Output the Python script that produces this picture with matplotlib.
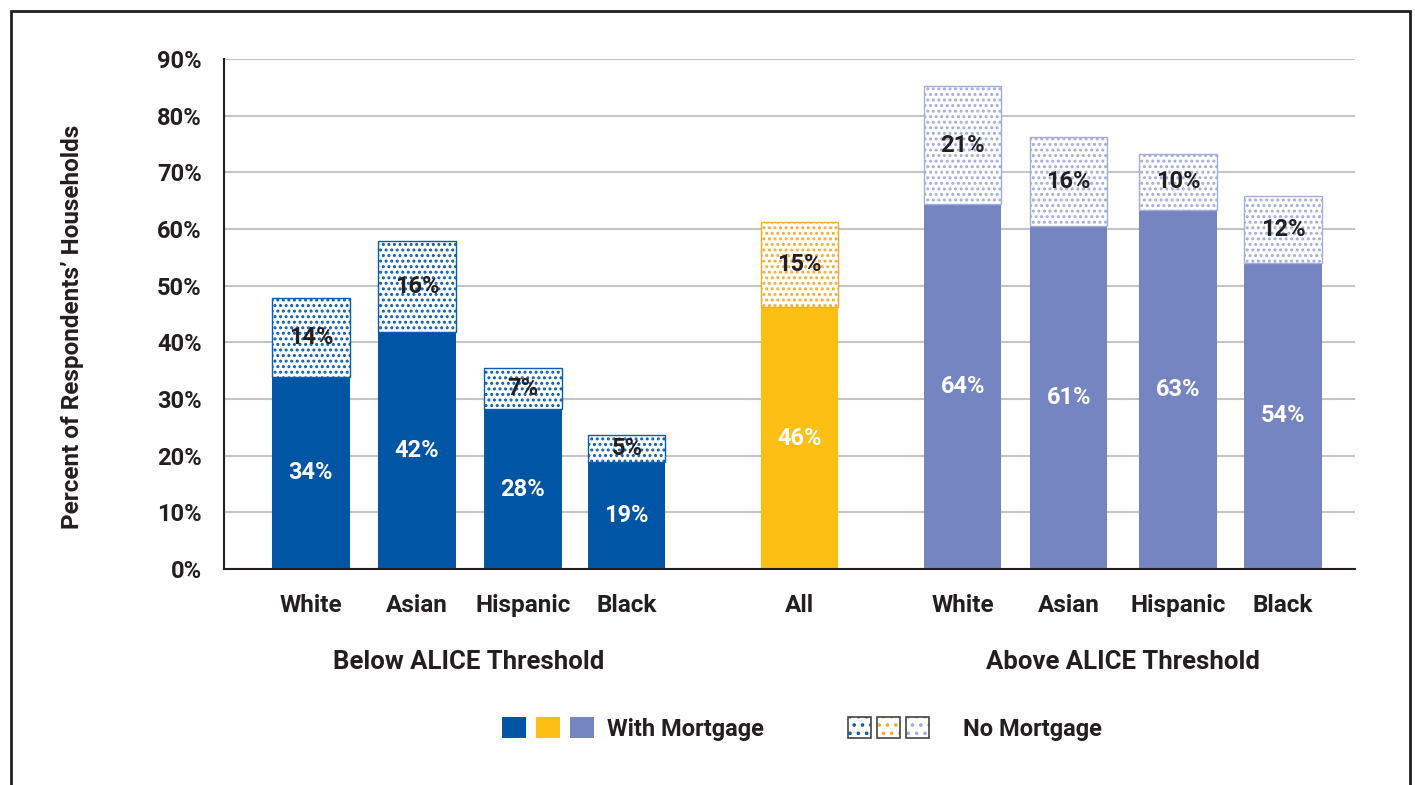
import matplotlib
matplotlib.use("Agg")
from matplotlib import pyplot as plt
from matplotlib.patches import Patch, Rectangle
from matplotlib.legend_handler import HandlerTuple

# data
categories = ['White', 'Asian', 'Hispanic', 'Black', 'All', 'White', 'Asian', 'Hispanic', 'Black']
groups = ['below', 'below', 'below', 'below', 'all', 'above', 'above', 'above', 'above']
with_mortgage = [33.9, 41.8, 28.2, 18.9, 46.2, 64.4, 60.6, 63.4, 54.0]
no_mortgage = [13.9, 16.1, 7.2, 4.8, 15.0, 20.8, 15.6, 9.9, 11.8]
x_pos = [0, 1, 2, 2.98, 4.61, 6.15, 7.15, 8.18, 9.17]
group_labels = ['Below ALICE Threshold', 'Above ALICE Threshold']

solid = {'below': '#0055a5', 'all': '#fdbf14', 'above': '#7585c1'}
dots = {'below': '#0a5cb0', 'all': '#f7ac2e', 'above': '#a3acdc'}
txt = '#231f20'

plt.rcParams['font.family'] = ['Roboto', 'DejaVu Sans']
plt.rcParams['font.weight'] = 'bold'
plt.rcParams['hatch.linewidth'] = 1.4

fig = plt.figure(figsize=(14.15, 7.85), dpi=100)
ax = fig.add_axes([224 / 1415, 1 - 569 / 785, 1131 / 1415, 510 / 785])

bw = 0.73
for i in range(len(categories)):
    g = groups[i]
    ax.bar(x_pos[i], with_mortgage[i], width=bw, color=solid[g], zorder=3)
    ax.bar(x_pos[i], no_mortgage[i], width=bw, bottom=with_mortgage[i], facecolor='white',
           edgecolor=dots[g], hatch='...', linewidth=1, zorder=3)
    ax.text(x_pos[i], with_mortgage[i] / 2, f'{round(with_mortgage[i])}%', ha='center', va='center',
            color='white', fontsize=17, fontweight='bold', zorder=4)
    ax.text(x_pos[i], with_mortgage[i] + no_mortgage[i] / 2, f'{round(no_mortgage[i])}%', ha='center',
            va='center', color=txt, fontsize=17, fontweight='bold', zorder=4)

ax.set_ylim(0, 90)
ax.set_xlim(-0.82, 9.85)
ax.set_yticks(range(0, 91, 10))
ax.set_yticklabels([f'{v}%' for v in range(0, 91, 10)], fontsize=17, color=txt)
ax.set_xticks(x_pos)
ax.set_xticklabels(categories, fontsize=17.5, color=txt)
ax.tick_params(axis='y', length=0, pad=16)
ax.tick_params(axis='x', length=0, pad=18)
ax.grid(axis='y', color='#c4c4c4', linewidth=1.5, zorder=0)
for s in ['top', 'right']:
    ax.spines[s].set_visible(False)
for s in ['left', 'bottom']:
    ax.spines[s].set_color(txt)
    ax.spines[s].set_linewidth(1.5)
    ax.spines[s].set_zorder(5)

ax.set_ylabel("Percent of Respondents\u2019 Households", fontsize=17.5, fontweight='bold', color=txt)
ax.yaxis.set_label_coords(-0.124, 0.475)

ax.text((x_pos[0] + x_pos[3]) / 2, -0.182, group_labels[0], transform=ax.get_xaxis_transform(),
        ha='center', va='center', fontsize=18.5, color=txt)
ax.text((x_pos[5] + x_pos[8]) / 2, -0.182, group_labels[1], transform=ax.get_xaxis_transform(),
        ha='center', va='center', fontsize=18.5, color=txt)

# legend: two separate blocks
solid_h = tuple(Patch(facecolor=solid[g], edgecolor='none') for g in ['below', 'all', 'above'])
dot_h = tuple((Patch(facecolor='white', edgecolor=dots[g], hatch='..', linewidth=0),
               Patch(facecolor='none', edgecolor='#444444', linewidth=1.2))
              for g in ['below', 'all', 'above'])
leg_y = 1 - 729 / 785
fig.legend([solid_h], ['With Mortgage'], handler_map={solid_h: HandlerTuple(ndivide=None, pad=0.42)},
           loc='center left', bbox_to_anchor=(502 / 1415, leg_y), frameon=False, borderpad=0,
           borderaxespad=0, fontsize=17, handlelength=3.9, handleheight=1.0, handletextpad=0.55,
           labelcolor=txt)
fig.legend([dot_h], ['No Mortgage'], handler_map={dot_h: HandlerTuple(ndivide=None, pad=0.25)},
           loc='center left', bbox_to_anchor=(848 / 1415, leg_y), frameon=False, borderpad=0,
           borderaxespad=0, fontsize=17, handlelength=3.43, handleheight=1.0, handletextpad=1.44,
           labelcolor=txt)

# outer frame
fig.add_artist(Rectangle((11 / 1415, -0.05), 1399 / 1415, 1.05 - 11 / 785, transform=fig.transFigure,
                         fill=False, edgecolor=txt, linewidth=2))

fig.savefig('out.png', dpi=100)
